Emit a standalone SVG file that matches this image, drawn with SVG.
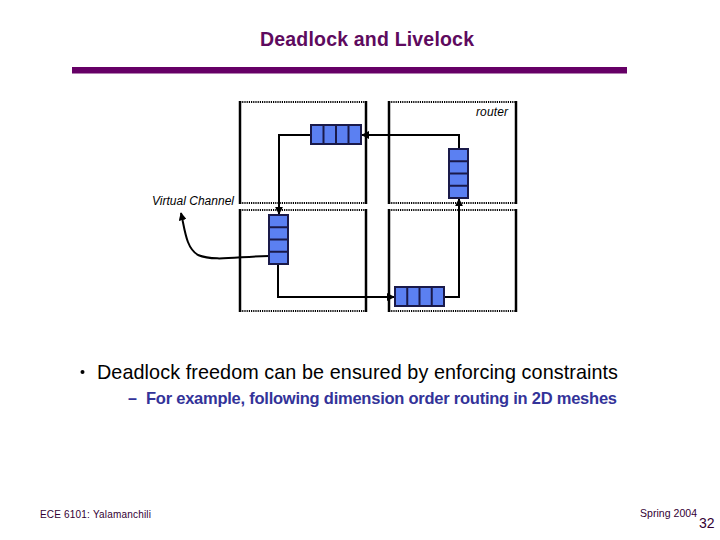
<svg xmlns="http://www.w3.org/2000/svg" width="720" height="540" viewBox="0 0 720 540">
<defs>
<style>
.solid{stroke:#000;stroke-width:2.5;fill:none}
.dot{stroke:#000;stroke-width:2;stroke-dasharray:1.2 1;fill:none}
.q{fill:#5B80F2;stroke:#1A1A4A;stroke-width:2}
.qd{stroke:#1A1A4A;stroke-width:2}
.wire{stroke:#000;stroke-width:2;fill:none}
.lbl{font-family:"Liberation Sans",Arial,sans-serif;font-style:italic;font-size:12px;fill:#000}
</style>
<marker id="ah" viewBox="0 0 10 10" refX="9" refY="5" markerWidth="4" markerHeight="4" orient="auto" markerUnits="strokeWidth">
<path d="M0,0 L10,5 L0,10 z" fill="#000"/>
</marker>
</defs>
<rect width="720" height="540" fill="#fff"/>
<text x="260" y="46" font-family="Liberation Sans,Arial,sans-serif" font-weight="bold" font-size="19.5" fill="#5E0A5E" textLength="214">Deadlock and Livelock</text>
<rect x="72" y="67" width="555" height="6.5" fill="#660066"/>

<g id="router-tl">
<line class="solid" x1="240" y1="101" x2="240" y2="204"/>
<line class="solid" x1="366" y1="101" x2="366" y2="204"/>
<line class="dot" x1="240" y1="102" x2="366" y2="102"/>
<line class="dot" x1="240" y1="203" x2="366" y2="203"/>
</g>
<g id="router-tr">
<line class="solid" x1="389" y1="101" x2="389" y2="204"/>
<line class="solid" x1="516" y1="101" x2="516" y2="204"/>
<line class="dot" x1="389" y1="102" x2="516" y2="102"/>
<line class="dot" x1="389" y1="203" x2="516" y2="203"/>
<text class="lbl" x="476" y="116" textLength="32">router</text>
</g>
<g id="router-bl">
<line class="solid" x1="240" y1="209" x2="240" y2="312"/>
<line class="solid" x1="366" y1="209" x2="366" y2="312"/>
<line class="dot" x1="240" y1="210" x2="366" y2="210"/>
<line class="dot" x1="240" y1="311" x2="366" y2="311"/>
</g>
<g id="router-br">
<line class="solid" x1="389" y1="209" x2="389" y2="312"/>
<line class="solid" x1="516" y1="209" x2="516" y2="312"/>
<line class="dot" x1="389" y1="210" x2="516" y2="210"/>
<line class="dot" x1="389" y1="311" x2="516" y2="311"/>
</g>

<g id="connectors">
<polyline class="wire" points="311,135 279,135 279,214" marker-end="url(#ah)"/>
<polyline class="wire" points="278,264 278,297 394,297" marker-end="url(#ah)"/>
<polyline class="wire" points="444,297 459,297 459,199" marker-end="url(#ah)"/>
<polyline class="wire" points="459,148 459,135 362,135" marker-end="url(#ah)"/>
<path class="wire" d="M269,256 C240,256 215,262 198,255 C186,248 185,230 181,213" marker-end="url(#ah)"/>
</g>

<g id="queue-tl">
<rect class="q" x="311" y="125" width="50" height="19"/>
<line class="qd" x1="323.5" y1="125" x2="323.5" y2="144"/>
<line class="qd" x1="336" y1="125" x2="336" y2="144"/>
<line class="qd" x1="348.5" y1="125" x2="348.5" y2="144"/>
</g>
<g id="queue-tr">
<rect class="q" x="449" y="149" width="19" height="49"/>
<line class="qd" x1="449" y1="161.25" x2="468" y2="161.25"/>
<line class="qd" x1="449" y1="173.5" x2="468" y2="173.5"/>
<line class="qd" x1="449" y1="185.75" x2="468" y2="185.75"/>
</g>
<g id="queue-bl">
<rect class="q" x="269" y="215" width="19" height="49"/>
<line class="qd" x1="269" y1="227.25" x2="288" y2="227.25"/>
<line class="qd" x1="269" y1="239.5" x2="288" y2="239.5"/>
<line class="qd" x1="269" y1="251.75" x2="288" y2="251.75"/>
</g>
<g id="queue-br">
<rect class="q" x="395" y="287" width="49" height="19"/>
<line class="qd" x1="407.25" y1="287" x2="407.25" y2="306"/>
<line class="qd" x1="419.5" y1="287" x2="419.5" y2="306"/>
<line class="qd" x1="431.75" y1="287" x2="431.75" y2="306"/>
</g>
<g id="vc-label">
<text class="lbl" x="152" y="205" textLength="82">Virtual Channel</text>
</g>

<circle cx="82.5" cy="372" r="2" fill="#000"/>
<text x="97" y="379" font-family="Liberation Sans,Arial,sans-serif" font-size="19.8" fill="#000" textLength="521">Deadlock freedom can be ensured by enforcing constraints</text>
<text x="128" y="404" font-family="Liberation Sans,Arial,sans-serif" font-size="16" font-weight="bold" fill="#333399">–</text>
<text x="146" y="404" font-family="Liberation Sans,Arial,sans-serif" font-size="16.5" font-weight="bold" fill="#333399" textLength="471">For example, following dimension order routing in 2D meshes</text>

<text x="40" y="518" font-family="Liberation Sans,Arial,sans-serif" font-size="10" fill="#330033" textLength="111">ECE 6101: Yalamanchili</text>
<text x="640" y="517" font-family="Liberation Sans,Arial,sans-serif" font-size="10.5" fill="#330033" textLength="57">Spring 2004</text>
<text x="699" y="528" font-family="Liberation Sans,Arial,sans-serif" font-size="14" fill="#330033">32</text>
</svg>
